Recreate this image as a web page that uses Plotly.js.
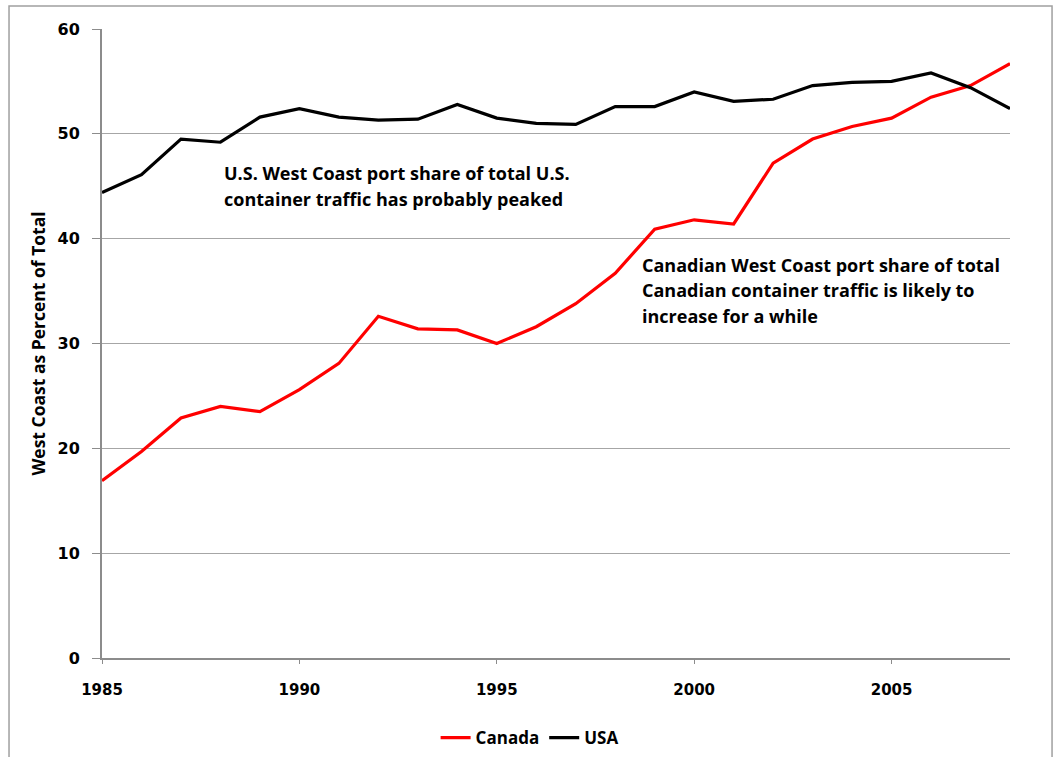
<!DOCTYPE html>
<html>
<head>
<meta charset="utf-8">
<script src="https://cdn.plot.ly/plotly-3.0.1.min.js"></script>
<style>
  html, body { margin: 0; padding: 0; background: #ffffff; }
  #chart { width: 1055px; height: 757px; }
</style>
</head>
<body>
<div id="chart"></div>
<script>
// West Coast share of national container traffic, 1985-2008
const years = [1985, 1986, 1987, 1988, 1989, 1990, 1991, 1992, 1993, 1994, 1995, 1996,
               1997, 1998, 1999, 2000, 2001, 2002, 2003, 2004, 2005, 2006, 2007, 2008];

const canadaShare = [16.9, 19.7, 22.9, 24.0, 23.5, 25.6, 28.1, 32.6, 31.4, 31.3, 30.0, 31.6,
                     33.8, 36.7, 40.9, 41.8, 41.4, 47.2, 49.5, 50.7, 51.5, 53.5, 54.6, 56.7];

const usaShare = [44.4, 46.1, 49.5, 49.2, 51.6, 52.4, 51.6, 51.3, 51.4, 52.8, 51.5, 51.0,
                  50.9, 52.6, 52.6, 54.0, 53.1, 53.3, 54.6, 54.9, 55.0, 55.8, 54.4, 52.4];

const seriesNames = ["Canada", "USA"];

const usNote = ["U.S. West Coast port share of total U.S.",
                "container traffic has probably peaked"];
const canadaNote = ["Canadian West Coast port share of total",
                    "Canadian container traffic is likely to",
                    "increase for a while"];

const textFont = "'Open Sans', Lato, sans-serif";
const numFont = "'DejaVu Sans', sans-serif";

const traces = [
  {
    x: years, y: canadaShare, name: seriesNames[0], type: "scatter", mode: "lines",
    line: { color: "#ff0000", width: 3.2 }
  },
  {
    x: years, y: usaShare, name: seriesNames[1], type: "scatter", mode: "lines",
    line: { color: "#000000", width: 3.2 }
  }
];

function noteLines(lines, x, ys) {
  return lines.map((t, i) => ({
    text: "<b>" + t + "</b>",
    x: x, y: ys[i], xref: "x", yref: "y",
    xanchor: "left", yanchor: "middle", showarrow: false,
    font: { family: textFont, size: 18, color: "#000000" }
  }));
}

const annotations = []
  .concat(noteLines(usNote, 1988.05, [46.3, 43.8]))
  .concat(noteLines(canadaNote, 1998.62, [37.5, 35.1, 32.65]));

const layout = {
  width: 1055, height: 757,
  margin: { l: 102, r: 45, t: 29, b: 99 },
  paper_bgcolor: "#ffffff", plot_bgcolor: "#ffffff",
  showlegend: true,
  legend: {
    orientation: "h", xref: "container", yref: "container",
    x: 0.502, y: 0.025, xanchor: "center", yanchor: "middle",
    font: { family: textFont, size: 17, color: "#000000", weight: "bold" },
    itemwidth: 30, tracegroupgap: 0
  },
  xaxis: {
    range: [1985, 2008], dtick: 5, tick0: 1985,
    showgrid: false, zeroline: false,
    showline: true, linecolor: "#8c8c8c", linewidth: 2,
    ticks: "outside", ticklen: 4, tickcolor: "#8c8c8c", tickwidth: 1,
    ticklabelstandoff: 13,
    tickfont: { family: numFont, size: 15, color: "#000000", weight: "bold" }
  },
  yaxis: {
    range: [0, 60], dtick: 10,
    showgrid: true, gridcolor: "#a6a6a6", gridwidth: 1,
    zeroline: false,
    showline: true, linecolor: "#8c8c8c", linewidth: 2,
    ticks: "outside", ticklen: 8, tickcolor: "#8c8c8c", tickwidth: 1,
    ticklabelstandoff: 9,
    tickfont: { family: numFont, size: 16, color: "#000000", weight: "bold" },
    title: {
      text: "<b>West Coast as Percent of Total</b>",
      font: { family: textFont, size: 17.5, color: "#000000" },
      standoff: 7
    }
  },
  annotations: annotations,
  shapes: [
    {
      type: "rect", xref: "paper", yref: "paper",
      x0: -0.1024, x1: 1.0463, y0: -0.165, y1: 1.0366,
      line: { color: "#a0a0a0", width: 1.5 }, fillcolor: "rgba(0,0,0,0)",
      layer: "below"
    }
  ]
};

Plotly.newPlot("chart", traces, layout, { displayModeBar: false, staticPlot: true });
</script>
</body>
</html>
